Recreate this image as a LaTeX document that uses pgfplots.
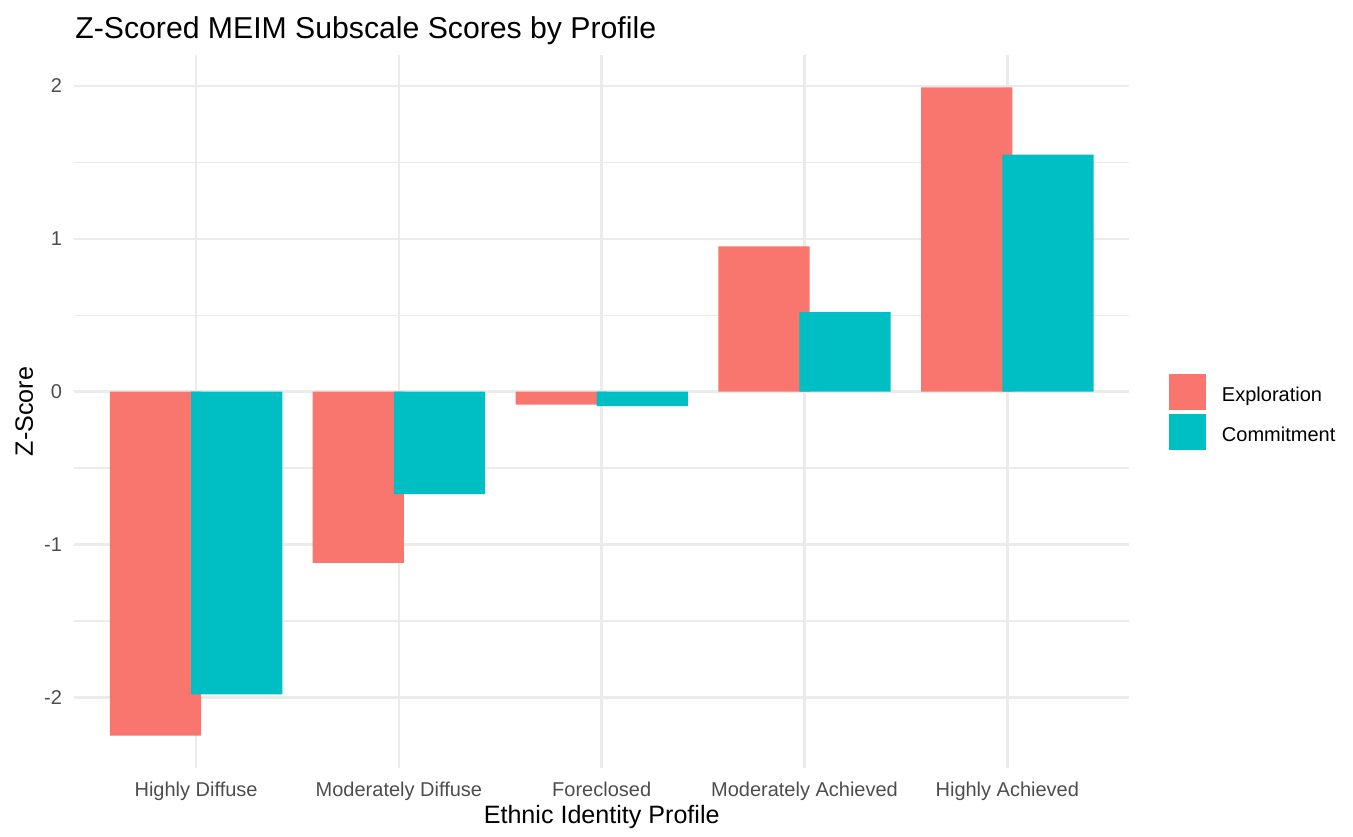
\documentclass[border=0pt]{standalone}
\usepackage{fontspec}
\setmainfont{Liberation Sans}
\usepackage{pgfplots}
\pgfplotsset{compat=1.18}
\definecolor{expl}{HTML}{F8766D}
\definecolor{comm}{HTML}{00BFC4}
\definecolor{gridc}{HTML}{EBEBEB}
\definecolor{tickc}{HTML}{4D4D4D}
\begin{document}
\begin{tikzpicture}
\useasboundingbox (0,0) rectangle (676.5pt,418pt);
\begin{axis}[
  at={(37.2pt,34pt)}, anchor=south west,
  width=527.3pt, height=356.5pt, scale only axis,
  xmin=0.4, xmax=5.6, ymin=-2.462, ymax=2.202,
  ybar, bar width=0.45,
  xtick={1,2,3,4,5},
  xticklabels={Highly Diffuse, Moderately Diffuse, Foreclosed, Moderately Achieved, Highly Achieved},
  ytick={-2,-1,0,1,2},
  minor ytick={-1.5,-0.5,0.5,1.5},
  xmajorgrids, ymajorgrids, yminorgrids,
  major grid style={draw=gridc, line width=1.22pt},
  minor grid style={draw=gridc, line width=0.61pt},
  axis line style={draw=none},
  major tick length=0pt, minor tick length=0pt,
  tick label style={font=\fontsize{10}{12}\selectfont, text=tickc},
  /pgf/number format/assume math mode=true,
  xticklabel style={anchor=base, yshift=-14pt},
  yticklabel style={anchor=east, inner sep=0pt, xshift=-6pt},
  legend style={at={(1.0379,0.4993)}, anchor=west, draw=none, fill=none,
    inner sep=0pt, outer sep=0pt, row sep=1.7pt,
    font=\fontsize{10}{12}\selectfont, nodes={inner sep=0pt},
    /tikz/every odd column/.append style={column sep=8pt}},
  legend cell align=left,
  legend image code/.code={\fill[#1] (0pt,-7.4pt) rectangle (18.5pt,10.9pt);},
]
\addplot[fill=expl, draw=none, bar shift=-0.2] coordinates {(1,-2.25) (2,-1.12) (3,-0.085) (4,0.95) (5,1.99)};
\addlegendentry{Exploration}
\addplot[fill=comm, draw=none, bar shift=0.2] coordinates {(1,-1.98) (2,-0.67) (3,-0.095) (4,0.52) (5,1.55)};
\addlegendentry{Commitment}
\end{axis}
\node[anchor=base west, inner sep=0pt, font=\fontsize{15.1}{18}\selectfont] at (37.5pt,398.5pt) {Z-Scored MEIM Subscale Scores by Profile};
\node[anchor=base, font=\fontsize{12.55}{15}\selectfont] at (300.85pt,6.5pt) {Ethnic Identity Profile};
\node[rotate=90, anchor=base, font=\fontsize{12.55}{15}\selectfont] at (16.5pt,212.25pt) {Z-Score};
\end{tikzpicture}
\end{document}
